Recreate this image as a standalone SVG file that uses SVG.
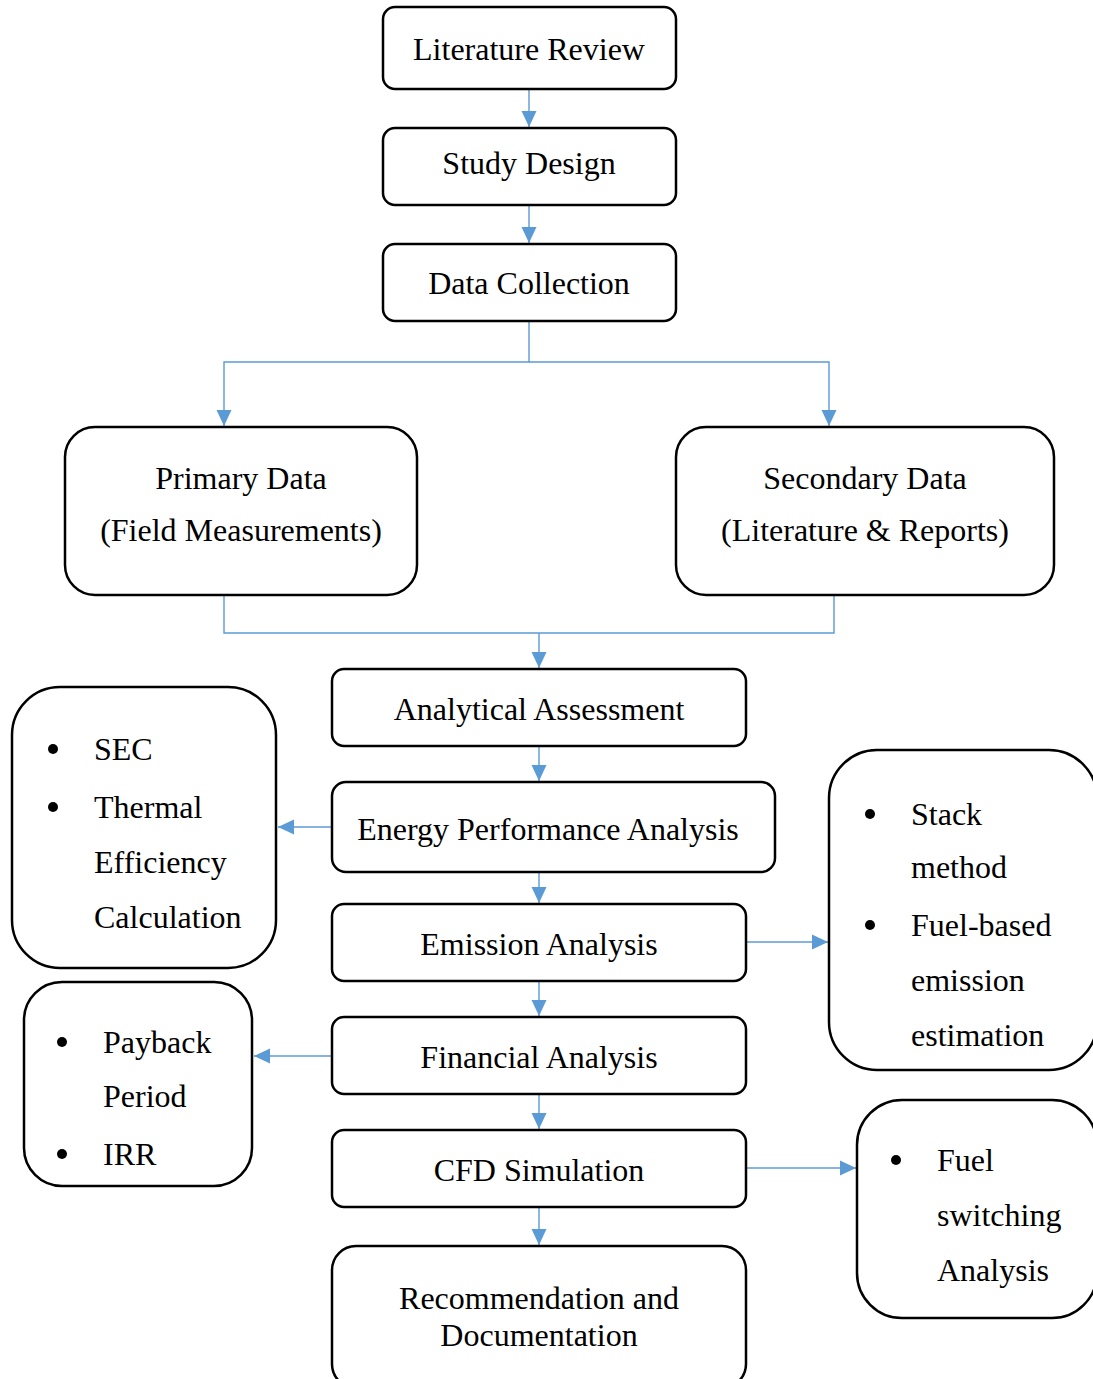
<svg xmlns="http://www.w3.org/2000/svg" width="1093" height="1379" viewBox="0 0 1093 1379">
<defs>
<style>
.box{fill:#fff;stroke:#000;stroke-width:2.5}
.t{font-family:"Liberation Serif","Times New Roman",serif;font-size:32px;fill:#000}
.c{text-anchor:middle}
.con{fill:none;stroke:#5B9BD5;stroke-width:1.4}
.dot{fill:#000}
</style>
<marker id="ah" viewBox="0 0 16 16" refX="16" refY="8" markerWidth="16" markerHeight="16" markerUnits="userSpaceOnUse" orient="auto">
<path d="M0,0.5 L16,8 L0,15.5 Z" fill="#5B9BD5"/>
</marker>
</defs>
<rect width="1093" height="1379" fill="#fff"/>

<g id="connectors">
<path class="con" d="M529,89 V127" marker-end="url(#ah)"/>
<path class="con" d="M529,205 V243" marker-end="url(#ah)"/>
<path class="con" d="M529,321 V362 H224 V426" marker-end="url(#ah)"/>
<path class="con" d="M529,362 H829 V426" marker-end="url(#ah)"/>
<path class="con" d="M224,595 V633 H834 V595"/>
<path class="con" d="M539,633 V668" marker-end="url(#ah)"/>
<path class="con" d="M539,746 V781" marker-end="url(#ah)"/>
<path class="con" d="M539,872 V903" marker-end="url(#ah)"/>
<path class="con" d="M539,981 V1016" marker-end="url(#ah)"/>
<path class="con" d="M539,1094 V1129" marker-end="url(#ah)"/>
<path class="con" d="M539,1207 V1245" marker-end="url(#ah)"/>
<path class="con" d="M332,827 H278" marker-end="url(#ah)"/>
<path class="con" d="M332,1056 H254" marker-end="url(#ah)"/>
<path class="con" d="M746,942 H828" marker-end="url(#ah)"/>
<path class="con" d="M746,1168 H856" marker-end="url(#ah)"/>
</g>

<g id="literature-review">
<rect class="box" x="383" y="7" width="293" height="82" rx="12"/>
<text class="t c" x="529" y="60">Literature Review</text>
</g>
<g id="study-design">
<rect class="box" x="383" y="128" width="293" height="77" rx="12"/>
<text class="t c" x="529" y="174">Study Design</text>
</g>
<g id="data-collection">
<rect class="box" x="383" y="244" width="293" height="77" rx="12"/>
<text class="t c" x="529" y="294">Data Collection</text>
</g>
<g id="primary-data">
<rect class="box" x="65" y="427" width="352" height="168" rx="30"/>
<text class="t c" x="241" y="489">Primary Data</text>
<text class="t c" x="241" y="541">(Field Measurements)</text>
</g>
<g id="secondary-data">
<rect class="box" x="676" y="427" width="378" height="168" rx="30"/>
<text class="t c" x="865" y="489">Secondary Data</text>
<text class="t c" x="865" y="541">(Literature &amp; Reports)</text>
</g>
<g id="analytical-assessment">
<rect class="box" x="332" y="669" width="414" height="77" rx="12"/>
<text class="t c" x="539" y="720">Analytical Assessment</text>
</g>
<g id="energy-performance">
<rect class="box" x="332" y="782" width="443" height="90" rx="14"/>
<text class="t c" x="548" y="840">Energy Performance Analysis</text>
</g>
<g id="emission-analysis">
<rect class="box" x="332" y="904" width="414" height="77" rx="12"/>
<text class="t c" x="539" y="955">Emission Analysis</text>
</g>
<g id="financial-analysis">
<rect class="box" x="332" y="1017" width="414" height="77" rx="12"/>
<text class="t c" x="539" y="1068">Financial Analysis</text>
</g>
<g id="cfd-simulation">
<rect class="box" x="332" y="1130" width="414" height="77" rx="12"/>
<text class="t c" x="539" y="1181">CFD Simulation</text>
</g>
<g id="recommendation">
<rect class="box" x="332" y="1246" width="414" height="142" rx="24"/>
<text class="t c" x="539" y="1309">Recommendation and</text>
<text class="t c" x="539" y="1346">Documentation</text>
</g>

<g id="sec-box">
<rect class="box" x="12" y="687" width="264" height="281" rx="48"/>
<circle class="dot" cx="53" cy="749" r="5"/>
<circle class="dot" cx="53" cy="807" r="5"/>
<text class="t" x="94" y="760">SEC</text>
<text class="t" x="94" y="818">Thermal</text>
<text class="t" x="94" y="873">Efficiency</text>
<text class="t" x="94" y="928">Calculation</text>
</g>
<g id="payback-box">
<rect class="box" x="24" y="982" width="228" height="204" rx="38"/>
<circle class="dot" cx="62" cy="1042" r="5"/>
<circle class="dot" cx="62" cy="1154" r="5"/>
<text class="t" x="103" y="1053">Payback</text>
<text class="t" x="103" y="1107">Period</text>
<text class="t" x="103" y="1165">IRR</text>
</g>
<g id="stack-box">
<rect class="box" x="829" y="750" width="268" height="320" rx="48"/>
<circle class="dot" cx="870" cy="814" r="5"/>
<circle class="dot" cx="870" cy="925" r="5"/>
<text class="t" x="911" y="825">Stack</text>
<text class="t" x="911" y="878">method</text>
<text class="t" x="911" y="936">Fuel-based</text>
<text class="t" x="911" y="991">emission</text>
<text class="t" x="911" y="1046">estimation</text>
</g>
<g id="fuel-switching-box">
<rect class="box" x="857" y="1100" width="240" height="218" rx="45"/>
<circle class="dot" cx="896" cy="1160" r="5"/>
<text class="t" x="937" y="1171">Fuel</text>
<text class="t" x="937" y="1226">switching</text>
<text class="t" x="937" y="1281">Analysis</text>
</g>
</svg>
